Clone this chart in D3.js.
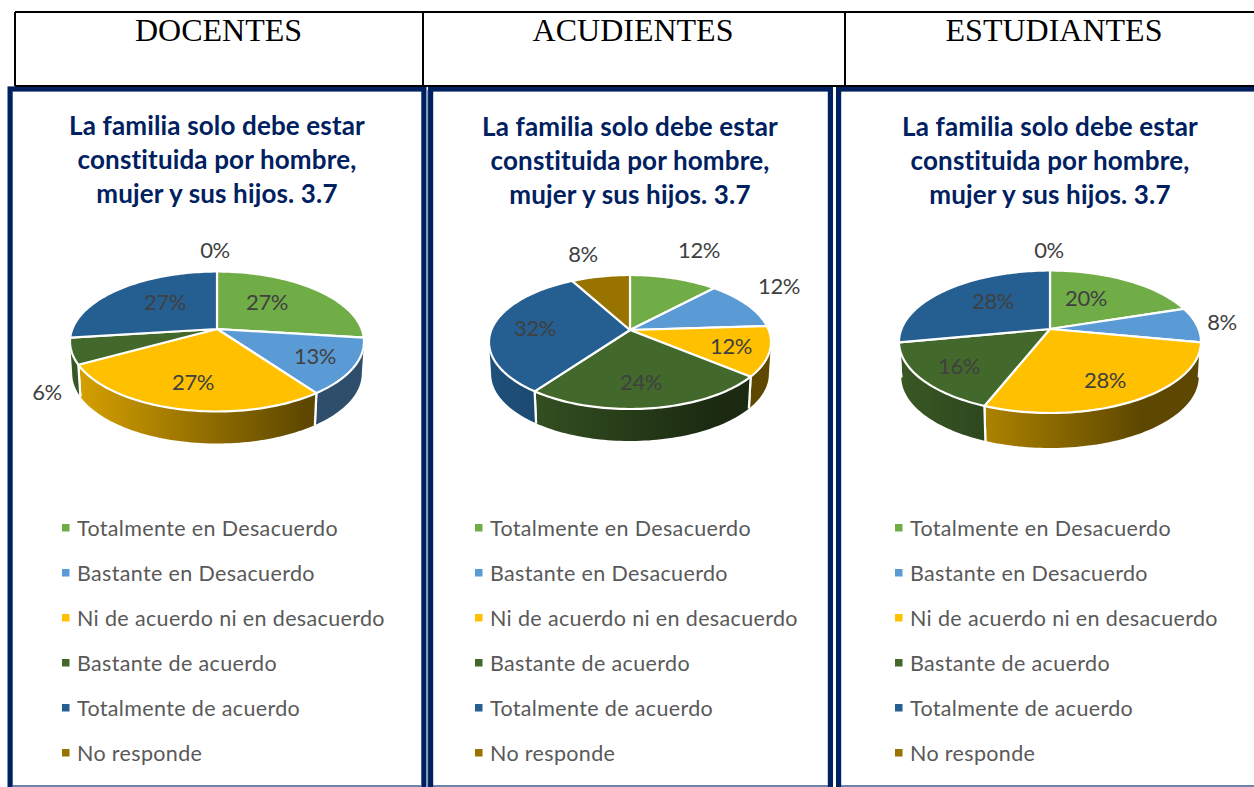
<!DOCTYPE html>
<html>
<head>
<meta charset="utf-8">
<script src="https://cdn.jsdelivr.net/npm/d3@7"></script>
<style>
html, body { margin: 0; padding: 0; background: #fff; overflow: hidden; }
svg { display: block; }
text { font-variant-ligatures: none; }
</style>
</head>
<body>
<svg id="chart" width="1254" height="787"></svg>
<script>
var categories = ["Totalmente en Desacuerdo", "Bastante en Desacuerdo", "Ni de acuerdo ni en desacuerdo",
    "Bastante de acuerdo", "Totalmente de acuerdo", "No responde"];
var docentes = [27, 13, 27, 6, 27, 0];
var acudientes = [12, 12, 12, 24, 32, 8];
var estudiantes = [20, 8, 28, 16, 28, 0];
var groups = ["DOCENTES", "ACUDIENTES", "ESTUDIANTES"];
var titleLines = ["La familia solo debe estar", "constituida por hombre,", "mujer y sus hijos. 3.7"];

var colors = ["#70AD47", "#5B9BD5", "#FFC000", "#43682B", "#255E91", "#997300"];
// cuanto se oscurece la pared de cada color hacia la derecha
var wallFloor = [0.5, 0.5, 0.37, 0.4, 0.52, 0.4];

var layouts = [
    { values: docentes, cx: 217, cy: 329, rx: 147, up: 57.5, down: 82.5, depth: 32, headX: 218.5, titleY: 135, legendX: 62, textX: 77,
      labels: [[50, -26], [98, 28], [-24, 54], [-170, 64], [-52, -26], [-2, -78]] },
    { values: acudientes, cx: 630, cy: 330, rx: 141, up: 55, down: 79, depth: 32, headX: 633, titleY: 136, legendX: 475, textX: 490,
      labels: [[69, -79], [149, -43], [101, 17], [11, 53], [-95, -1], [-47, -75]] },
    { values: estudiantes, cx: 1050, cy: 329, rx: 151, up: 58.5, down: 84, depth: 35, headX: 1054, titleY: 136, legendX: 895, textX: 910,
      labels: [[36, -30], [172, -6], [55, 52], [-91, 38], [-57, -27], [-1, -78]] }
];

var svg = d3.select("#chart");
var defs = svg.append("defs");
var navy = "#002060";
var serif = "'Liberation Serif', serif";
var sans = "Lato, 'Open Sans', sans-serif";

var pie = d3.pie().sort(null).value(function(d) { return d; }).startAngle(0).endAngle(2 * Math.PI);
var line = d3.line();

// Marco azul de cada panel (el borde de abajo queda cortado por la pagina, solo se ve una linea fina)
var frames = [
    { x0: 7.5, x1: 426.5, y0: 87 },
    { x0: 428, x1: 833, y0: 87 },
    { x0: 836, x1: 1300, y0: 87 }
];
frames.forEach(function(f) {
    svg.append("rect")
        .attr("x", f.x0 + 2.6).attr("y", f.y0 + 2)
        .attr("width", f.x1 - f.x0 - 5.2).attr("height", 720)
        .attr("fill", "none").attr("stroke", navy).attr("stroke-width", 5.2);
    svg.append("line")
        .attr("x1", f.x0 + 5).attr("x2", f.x1 - 5).attr("y1", 786).attr("y2", 786)
        .attr("stroke", "#3d5a8f").attr("stroke-width", 1.6);
});
svg.append("rect").attr("x", 426.5).attr("y", 90).attr("width", 1.6).attr("height", 697).attr("fill", "#8e9fc4");

// Tabla negra de arriba
[[15, 12, 1254, 12], [15, 86, 1254, 86], [15, 12, 15, 86], [423, 12, 423, 86], [845, 12, 845, 86]].forEach(function(l) {
    svg.append("line")
        .attr("x1", l[0]).attr("y1", l[1]).attr("x2", l[2]).attr("y2", l[3])
        .attr("stroke", "#000").attr("stroke-width", 2);
});

function drawPanel(p, panelIndex) {
    var g = svg.append("g");

    g.append("text")
        .attr("x", p.headX).attr("y", 41)
        .attr("text-anchor", "middle")
        .style("font-family", serif).style("font-size", "32px").attr("fill", "#000")
        .text(groups[panelIndex]);

    g.selectAll("text.title")
        .data(titleLines)
        .enter().append("text")
        .attr("class", "title")
        .attr("x", p.cx).attr("y", function(d, i) { return p.titleY + i * 34; })
        .attr("text-anchor", "middle")
        .style("font-family", sans).style("font-weight", 700).style("font-size", "26px")
        .style("letter-spacing", "0.15px")
        .attr("fill", navy)
        .text(function(d) { return d; });

    // Proyeccion en perspectiva: el centro de la torta no cae en el centro de la elipse
    var c = (p.up - p.down) / (p.up + p.down);
    var a = p.up * (1 - c);
    var rx = p.rx * Math.sqrt(1 - c * c);
    var wallStart = Math.acos(c), wallEnd = 2 * Math.PI - wallStart;

    function project(angle) {
        var u = Math.sin(angle), v = -Math.cos(angle), k = 1 + c * v;
        return [p.cx + rx * u / k, p.cy + a * v / k];
    }
    function arcPoints(start, end) {
        var n = Math.max(2, Math.ceil((end - start) * 40));
        return d3.range(n + 1).map(function(i) { return project(start + (end - start) * i / n); });
    }

    var slices = pie(p.values);

    // Paredes laterales, solo la mitad de adelante
    slices.forEach(function(d, i) {
        var start = Math.max(d.startAngle, wallStart), end = Math.min(d.endAngle, wallEnd);
        if (d.value === 0 || end <= start) return;

        var id = "wall" + panelIndex + "-" + i;
        var grad = defs.append("linearGradient")
            .attr("id", id).attr("gradientUnits", "userSpaceOnUse")
            .attr("x1", p.cx - p.rx).attr("x2", p.cx + p.rx).attr("y1", 0).attr("y2", 0);
        var base = d3.rgb(colors[i]);
        function shade(f) { return d3.rgb(base.r * f, base.g * f, base.b * f).formatHex(); }
        grad.append("stop").attr("offset", 0).attr("stop-color", shade(0.85));
        grad.append("stop").attr("offset", 0.8).attr("stop-color", shade(wallFloor[i]));
        grad.append("stop").attr("offset", 1).attr("stop-color", shade(wallFloor[i]));

        var upper = arcPoints(start, end);
        var lower = upper.map(function(q) {
            return [p.cx + (q[0] - p.cx) * 0.985, q[1] + p.depth];
        }).reverse();
        g.append("path")
            .attr("d", line(upper.concat(lower)) + "Z")
            .attr("fill", "url(#" + id + ")");
        // separador blanco entre paredes
        [start, end].forEach(function(t) {
            if (t === wallStart || t === wallEnd) return;
            var q = project(t);
            g.append("line")
                .attr("x1", q[0]).attr("y1", q[1])
                .attr("x2", p.cx + (q[0] - p.cx) * 0.985).attr("y2", q[1] + p.depth)
                .attr("stroke", "#fff").attr("stroke-width", 2.2);
        });
    });

    // Cara superior
    slices.forEach(function(d, i) {
        if (d.value === 0) return;
        g.append("path")
            .attr("d", line([[p.cx, p.cy]].concat(arcPoints(d.startAngle, d.endAngle))) + "Z")
            .attr("fill", colors[i])
            .attr("stroke", "#fff").attr("stroke-width", 2.2).attr("stroke-linejoin", "round");
    });

    g.selectAll("text.pct")
        .data(p.values)
        .enter().append("text")
        .attr("class", "pct")
        .attr("x", function(d, i) { return p.cx + p.labels[i][0]; })
        .attr("y", function(d, i) { return p.cy + p.labels[i][1] + 6.5; })
        .attr("text-anchor", "middle")
        .style("font-family", sans).style("font-size", "22px").style("letter-spacing", "-0.4px")
        .attr("fill", "#404040")
        .text(function(d) { return d + "%"; });

    var legendY = d3.scalePoint().domain(categories).range([528, 753]);
    var row = g.selectAll("g.row")
        .data(categories)
        .enter().append("g")
        .attr("class", "row")
        .attr("transform", function(d) { return "translate(0," + legendY(d) + ")"; });
    row.append("rect")
        .attr("x", p.legendX).attr("y", -4)
        .attr("width", 7.5).attr("height", 7.5)
        .attr("fill", function(d, i) { return colors[i]; });
    row.append("text")
        .attr("x", p.textX).attr("y", 8)
        .style("font-family", sans).style("font-size", "21.5px").style("letter-spacing", "0.35px")
        .attr("fill", "#595959")
        .text(function(d) { return d; });
}

layouts.forEach(drawPanel);
</script>
</body>
</html>
